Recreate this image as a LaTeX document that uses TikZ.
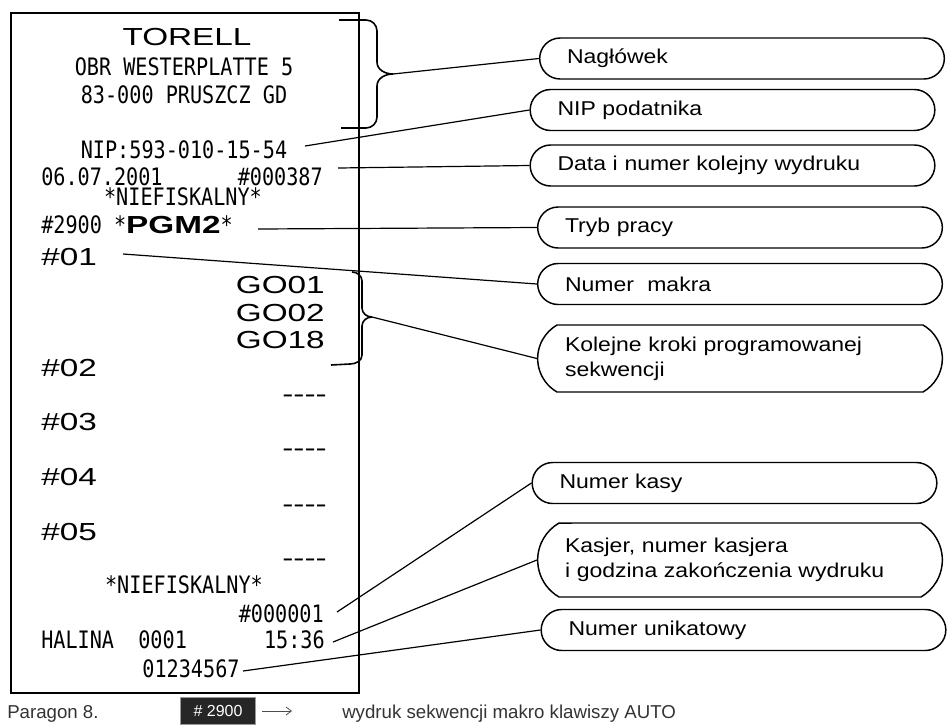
\documentclass[tikz,border=0pt]{standalone}
\usepackage{fontspec}
\usepackage{tikz}
\usetikzlibrary{shapes.misc,arrows.meta}
\setmainfont{Liberation Sans}
\newfontfamily\rcptMono[FakeStretch=0.84]{DejaVu Sans Mono}
\newfontfamily\rcptWide[FakeStretch=1.35]{Liberation Sans}
\newfontfamily\calloutFace[FakeStretch=1.15]{Liberation Sans}
\newcommand{\rcptLine}[1]{{\rcptMono\fontsize{18}{18}\selectfont #1}}
\newcommand{\rcptBig}[1]{{\rcptWide\fontsize{18.5}{18.5}\selectfont #1}}
\newcommand{\rcptDash}{\rcptBig{-{}-{}-{}-}}

\begin{document}
\begin{tikzpicture}[x=0.75pt,y=-0.75pt,
  callout/.style={rounded rectangle, draw, line width=1.1pt, minimum width=307.5pt,
    minimum height=30.75pt, text width=262.5pt, align=left, inner sep=2pt,
    font=\calloutFace\fontsize{15}{19}\selectfont},
  tallcallout/.style={rounded rectangle arc length=120, minimum height=50.25pt},
  leader/.style={line width=0.9pt},
  brace/.style={line width=1.2pt}]
\useasboundingbox (0,0) rectangle (949,726);
% paragon
\draw[line width=1.5pt] (11,13) rectangle (359,693);
\node[anchor=base, inner sep=0pt] (torell) at (187,45) {\rcptBig{TORELL}};
\node[anchor=base, inner sep=0pt] (adres1) at (184,75) {\rcptLine{OBR WESTERPLATTE 5}};
\node[anchor=base, inner sep=0pt] (adres2) at (184,103) {\rcptLine{83-000 PRUSZCZ GD}};
\node[anchor=base, inner sep=0pt] (niptxt) at (184,158) {\rcptLine{NIP:593-010-15-54}};
\node[anchor=base west, inner sep=0pt] (datatxt) at (41,185) {\rcptLine{06.07.2001}};
\node[anchor=base east, inner sep=0pt] (wydruktxt) at (323,185) {\rcptLine{\#000387}};
\node[anchor=base, inner sep=0pt] (niefisk1) at (183,205) {\rcptLine{*NIEFISKALNY*}};
\node[anchor=base west, inner sep=0pt] (trybtxt) at (41,233) {\rcptLine{\#2900 *}\rcptBig{\bfseries PGM2}\rcptLine{*}};
\node[anchor=base west, inner sep=0pt] (m01) at (41,265) {\rcptBig{\#01}};
\node[anchor=base east, inner sep=0pt] (go01) at (325,293) {\rcptBig{GO01}};
\node[anchor=base east, inner sep=0pt] (go02) at (325,321) {\rcptBig{GO02}};
\node[anchor=base east, inner sep=0pt] (go18) at (325,348) {\rcptBig{GO18}};
\node[anchor=base west, inner sep=0pt] (m02) at (41,376) {\rcptBig{\#02}};
\node[anchor=base east, inner sep=0pt] (k02) at (327,402) {\rcptDash};
\node[anchor=base west, inner sep=0pt] (m03) at (41,430) {\rcptBig{\#03}};
\node[anchor=base east, inner sep=0pt] (k03) at (327,456) {\rcptDash};
\node[anchor=base west, inner sep=0pt] (m04) at (41,485) {\rcptBig{\#04}};
\node[anchor=base east, inner sep=0pt] (k04) at (327,512) {\rcptDash};
\node[anchor=base west, inner sep=0pt] (m05) at (41,540) {\rcptBig{\#05}};
\node[anchor=base east, inner sep=0pt] (k05) at (327,566) {\rcptDash};
\node[anchor=base, inner sep=0pt] (niefisk2) at (184,593) {\rcptLine{*NIEFISKALNY*}};
\node[anchor=base east, inner sep=0pt] (kasatxt) at (324,622) {\rcptLine{\#000001}};
\node[anchor=base west, inner sep=0pt] (kasjertxt) at (41,648) {\rcptLine{HALINA\ \ 0001}};
\node[anchor=base east, inner sep=0pt] (godztxt) at (325,648) {\rcptLine{15:36}};
\node[anchor=base, inner sep=0pt] (unikattxt) at (191,677) {\rcptLine{01234567}};
% klamry
\coordinate (headtip) at (393,74);
\draw[brace] (339,20) -- (366,20) to[out=0,in=90] (377,31) -- (377,62) to[out=-90,in=180] (headtip);
\draw[brace] (headtip) to[out=180,in=90] (377,86) -- (377,117) to[out=-90,in=0] (366,128) -- (341,128);
\coordinate (stepstip) at (372,317);
\draw[brace] (352,272) to[out=0,in=90] (362,281) -- (362,308) to[out=-90,in=180] (stepstip);
\draw[brace] (stepstip) to[out=180,in=90] (362,326) -- (362,355) to[out=-90,in=0] (350,364) -- (331,365);
% opisy
\node[callout] (naglowek) at (742,58.5) {Nagłówek};
\node[callout] (nip) at (732.5,110) {NIP podatnika};
\node[callout] (data) at (732.5,165.5) {Data i numer kolejny wydruku};
\node[callout] (tryb) at (740,227.5) {Tryb pracy};
\node[callout] (makra) at (740,284) {Numer~ makra};
\node[callout, tallcallout] (kroki) at (740,358.5) {Kolejne kroki programowanej\\sekwencji};
\node[callout] (kasy) at (734.5,483) {Numer kasy};
\node[callout, tallcallout, minimum height=55.5pt] (kasjer) at (740,560) {Kasjer, numer kasjera\\i godzina zakończenia wydruku};
\node[callout] (unikat) at (743.5,630) {Numer unikatowy};
% linie
\coordinate (nipend) at (305,146);
\coordinate (dataend) at (338,168);
\coordinate (trybend) at (258,229);
\coordinate (makraend) at (123,254);
\coordinate (kasyend) at (337,612);
\coordinate (kasjerend) at (333,642);
\coordinate (unikatend) at (243,671);
\draw[leader] (headtip) -- (naglowek.west);
\draw[leader] (nipend) -- (nip.west);
\draw[leader] (dataend) -- (data.west);
\draw[leader] (trybend) -- (tryb.west);
\draw[leader] (makraend) -- (makra.west);
\draw[leader] (stepstip) -- (kroki.west);
\draw[leader] (kasyend) -- (kasy.west);
\draw[leader] (kasjerend) -- (kasjer.west);
\draw[leader] (unikatend) -- (unikat.west);
% podpis
\node[anchor=base west, inner sep=0pt, font=\fontsize{14}{16}\selectfont, text=black!80] (paragon) at (7,718) {Paragon 8.};
\node[fill=black!85, draw=black!40, text=white, minimum width=56pt, minimum height=20pt, inner sep=1pt,
  font=\fontsize{12}{14}\selectfont] (hashkey) at (218,711) {\# 2900};
\coordinate (keyarrow) at (292,711);
\draw[line width=0.6pt, black!70, -{Straight Barb[length=4pt,width=6pt]}, shorten <=5pt] (hashkey.east) -- (keyarrow);
\node[anchor=base west, inner sep=0pt, font=\fontsize{14}{16}\selectfont, text=black!80] (autotxt) at (342,718) {wydruk sekwencji makro klawiszy AUTO};
\end{tikzpicture}
\end{document}
